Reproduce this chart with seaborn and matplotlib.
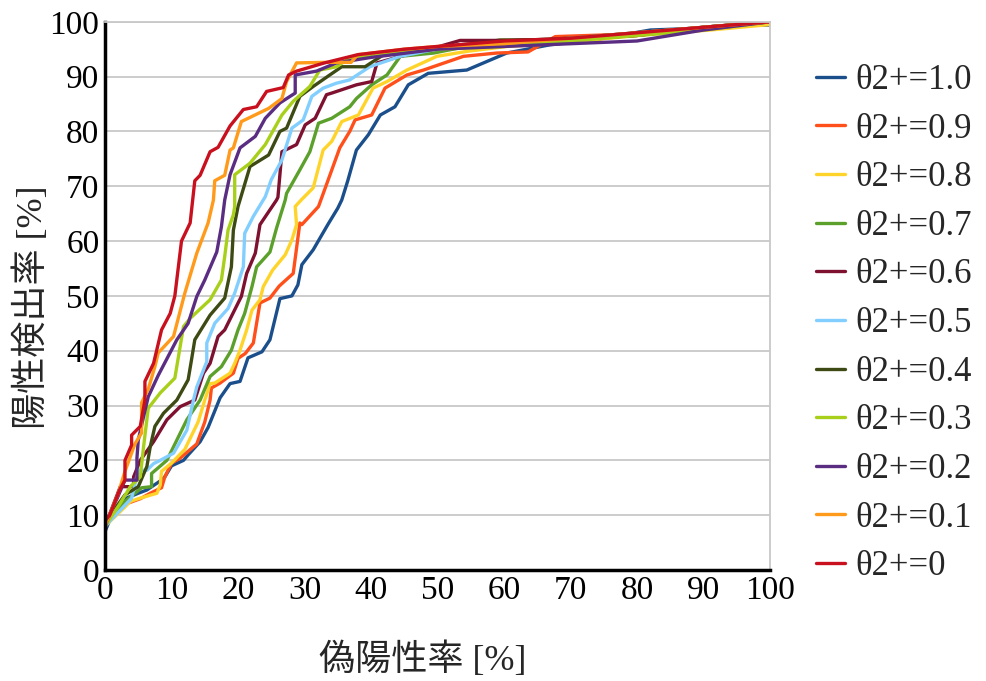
import matplotlib
matplotlib.use("Agg")
import matplotlib.pyplot as plt
import seaborn as sns
import pandas as pd

sns.set_theme(style="white")
plt.rcParams['font.family'] = ['Liberation Serif', 'Noto Sans CJK JP']

labels = ["θ2+=1.0", "θ2+=0.9", "θ2+=0.8", "θ2+=0.7", "θ2+=0.6", "θ2+=0.5",
          "θ2+=0.4", "θ2+=0.3", "θ2+=0.2", "θ2+=0.1", "θ2+=0"]
colors = ["#1B4F8C", "#FF4F1A", "#FFD42A", "#5CA02C", "#7E1030", "#82CFFF",
          "#3D4A14", "#A8D01A", "#5A2D82", "#FF9A1A", "#C8101E"]

x_10 = [0, 1, 3, 5, 6.3, 8.5, 9, 10, 11.8, 12.5, 14.3, 15.5, 16.5, 17.3, 18.8, 20.3, 21.5, 23.6, 24.8, 26.3, 28.1, 29, 29.6, 31.3, 33.5, 35, 35.6, 36.5, 37.8, 39.6, 41.4, 43.6, 45.6, 48.6, 54.4, 60.4, 66.9, 74, 82, 91, 94.5, 100]
y_10 = [7, 10, 13, 14, 14.6, 16.4, 17, 19, 20, 21, 23.4, 26, 29, 31.4, 34, 34.4, 38.7, 39.8, 42, 49.5, 50, 52, 55.7, 58.4, 63, 66, 67.5, 71, 76.6, 79.4, 83, 84.5, 88.5, 90.6, 91.2, 94.3, 95.8, 96.8, 98.5, 98.9, 99.4, 99.4]

x_09 = [0, 3, 5.3, 6.8, 8.5, 9, 10, 11.3, 13.8, 15, 15.8, 16, 17.3, 19.3, 20, 21.1, 22.3, 23.3, 24.8, 26.2, 28.3, 29.3, 29.6, 32.1, 33.3, 35.3, 36.8, 37.6, 40.1, 42.1, 45.4, 47.9, 53.9, 58.9, 63.6, 67.7, 80, 90, 100]
y_09 = [8, 12, 13, 14, 15, 17, 19.5, 20.4, 23, 27, 31, 33.2, 34.1, 35.9, 38.6, 39.5, 41.4, 48.7, 49.6, 51.8, 54.1, 63.3, 63, 66.3, 70.3, 77, 80, 82.1, 83, 87.9, 90.3, 91.2, 93.7, 94.3, 94.5, 97.3, 97.8, 99, 100]

x_08 = [0, 3, 3.8, 5, 7.8, 8.3, 8.5, 10, 12, 14, 15, 15.8, 16.5, 18.8, 19.5, 20.3, 21.3, 22.1, 23.3, 23.8, 25.2, 27.1, 28.1, 28.8, 28.6, 29.5, 31.3, 32.8, 34.1, 35.6, 38.1, 40.3, 42.4, 45.4, 49.9, 54.4, 60.4, 67.4, 80, 91, 100]
y_08 = [8, 11.5, 12.5, 13, 14, 15.5, 18, 19.5, 22, 27, 31, 34, 34.1, 35.9, 37.7, 40.1, 43.8, 47.4, 49.3, 51.7, 54.7, 57.5, 60.2, 63, 66.3, 67.5, 69.7, 76.6, 78.2, 81.8, 83, 87.9, 89.1, 91.2, 93.7, 94.6, 95.5, 96, 97.5, 98.5, 99.5]

x_07 = [0, 3, 5.5, 7, 7, 9.3, 12.3, 14.3, 15.8, 17.5, 19, 20, 21, 22.1, 22.8, 24.8, 25.8, 27.1, 27.3, 29.3, 30.8, 32.1, 34.1, 36.8, 37.8, 40.1, 42.4, 44.4, 49.4, 59.4, 66.9, 80, 90, 100]
y_07 = [8, 12.5, 15, 15.2, 17.6, 20, 27.4, 31, 35.3, 37.1, 40.1, 43.8, 46.8, 51.7, 55.3, 58, 62.4, 67.5, 68.7, 73, 76.3, 81.5, 82.4, 84.5, 86, 88.5, 90.3, 93.7, 94.3, 96.7, 96.7, 97.5, 99, 100]

x_06 = [0, 2.3, 4.3, 4.3, 5.3, 7.3, 9.3, 11.3, 13.5, 14.8, 15.8, 17, 18, 20.5, 21.3, 22.6, 23.3, 24.8, 25.8, 26, 26.6, 28.8, 30.1, 31.6, 33.3, 34.1, 37.8, 40.1, 40.9, 44.4, 49.4, 53.4, 58.4, 70, 80, 90, 100]
y_06 = [8, 15.2, 15.2, 17, 20, 23.4, 27.4, 29.8, 31, 35.9, 37.7, 42.6, 43.8, 49.9, 54.1, 57.8, 63, 65.7, 67.5, 68, 76.3, 77.6, 81.2, 82.4, 86.7, 87, 88.5, 89.1, 92.5, 93.7, 95.2, 96.6, 96.6, 96.8, 97.5, 99, 100]

x_05 = [0, 4, 5, 6.3, 7.3, 8.3, 10.3, 12.3, 13.3, 13.8, 15.3, 15.3, 16.5, 18.5, 19.5, 20.8, 21, 22.3, 24.1, 25, 26.6, 28.1, 29.8, 31.1, 32.8, 34.8, 36.8, 39.8, 44.4, 49.4, 60, 70, 80, 90, 100]
y_05 = [8, 13.1, 18.2, 18.2, 19.4, 20, 21.3, 25.5, 31, 33.4, 38, 41.4, 45, 47.7, 50.5, 55.3, 61.4, 64.5, 68.1, 71.2, 74.8, 80.6, 82.1, 86.4, 87.9, 88.8, 89.4, 91.8, 93.7, 94.9, 96, 97, 98, 99, 100]

x_04 = [0, 1.2, 3, 5, 6.3, 6.8, 7.5, 8.8, 10.8, 12.5, 13, 13.5, 15.8, 18, 19, 19.3, 20, 21.8, 24.6, 26.3, 27.3, 29.3, 31.3, 33.8, 35.6, 39.1, 41.9, 53.4, 60, 70, 80, 90, 100]
y_04 = [8, 10.7, 13.7, 15.2, 18.9, 22.5, 26.2, 28.6, 31, 34.7, 38.3, 42, 46.5, 49.6, 55.3, 62, 66.3, 73.6, 75.7, 80, 80.6, 86.4, 88.2, 90.3, 91.8, 91.8, 94, 95.8, 96.5, 97, 98, 99, 100]

x_03 = [0, 2.2, 3.8, 5.3, 5.8, 6.5, 8.3, 10.5, 11.8, 12.8, 15.8, 17.5, 18, 18.5, 19.3, 19.5, 19.5, 21.8, 24.1, 26.6, 28.3, 30.8, 32.3, 34.8, 36.3, 40, 50, 60, 70, 80, 90, 100]
y_03 = [8, 12, 15.2, 17, 22.5, 29.5, 32.3, 35, 44.4, 45.9, 49.3, 52.9, 57.2, 62, 64.8, 66.3, 72.1, 74.2, 77.6, 83, 85.5, 88.2, 91.2, 91.8, 93, 94, 95, 95.5, 96.5, 97.5, 98.5, 100]

x_02 = [0, 1.2, 1.8, 3, 4.8, 4.8, 5, 5.8, 6.5, 8, 10.8, 12.5, 13.8, 15, 16.8, 17.5, 18, 18.8, 20.3, 22.6, 24.1, 26.3, 28.6, 28.6, 31.8, 34.8, 40, 50, 60, 70, 80, 90, 100]
y_02 = [8, 11.6, 13, 16.4, 16.4, 20.4, 23.7, 28, 31.6, 35.5, 42, 45, 49.9, 52.9, 58, 62.6, 67.5, 72.1, 77, 79.1, 82.4, 85.2, 87, 90.3, 91, 92.5, 93.5, 95, 95.5, 96, 96.5, 98.5, 100]

x_01 = [0, 1, 2, 3, 4.5, 5.5, 5.5, 6.5, 7.5, 8, 10.3, 12, 13.8, 15.5, 16.3, 16.5, 18, 18.8, 19.3, 20.5, 24.6, 26.6, 27.3, 28.8, 33, 37, 38, 45, 50, 60, 70, 80, 90, 100]
y_01 = [8, 11, 14, 18, 23, 25, 30.5, 33, 37.1, 39.6, 42.6, 50.5, 57.8, 63.3, 67.5, 71, 72, 76.6, 77, 81.8, 84.2, 86, 89.1, 92.5, 92.6, 92.6, 94, 95, 95.5, 96, 97, 98, 99, 100]

x_00 = [0, 0, 0.7, 1.2, 2.2, 3, 3, 4, 4, 5.3, 6, 6, 7.3, 8.5, 9.8, 10.5, 11, 11.5, 12.8, 13.5, 14.3, 15.8, 17, 18.8, 20.8, 22.8, 24.3, 26.8, 27.6, 28.8, 33, 38, 45, 50, 55, 60, 70, 80, 90, 100]
y_00 = [6, 9, 10, 11.5, 14.6, 16.4, 20, 22.8, 24.6, 26.2, 31, 34.4, 37.7, 43.8, 46.8, 50, 55, 60, 63.3, 71, 72, 76.3, 77.1, 81, 84, 84.5, 87.3, 88, 90.3, 91, 92.5, 94, 95, 95.5, 96, 96.5, 97, 98, 99, 100]

series_x = [x_10, x_09, x_08, x_07, x_06, x_05, x_04, x_03, x_02, x_01, x_00]
series_y = [y_10, y_09, y_08, y_07, y_06, y_05, y_04, y_03, y_02, y_01, y_00]

x_ticks = list(range(0, 101, 10))
y_ticks = list(range(0, 101, 10))

fig = plt.figure(figsize=(9.87, 6.81), dpi=100)
ax = fig.add_axes([0.1064, 0.163, 0.6738, 0.805])

for lab, col, xs, ys in zip(labels, colors, series_x, series_y):
    df = pd.DataFrame({"x": xs, "y": ys})
    sns.lineplot(data=df, x="x", y="y", ax=ax, color=col, linewidth=2.4,
                 sort=False, estimator=None, label=lab)

ax.set_xlim(0, 100)
ax.set_ylim(0, 100)
ax.set_xticks(x_ticks)
ax.set_yticks(y_ticks)
ax.yaxis.grid(True, color="#C8C8C8", linewidth=1.3)
ax.xaxis.grid(False)
ax.set_axisbelow(True)
ax.tick_params(axis="both", length=0, labelsize=24, colors="black", pad=4)
for s in ["left", "bottom"]:
    ax.spines[s].set_color("black")
    ax.spines[s].set_linewidth(2.5)
for s in ["right", "top"]:
    ax.spines[s].set_color("#C8C8C8")
    ax.spines[s].set_linewidth(1.3)

ax.set_xlabel("偽陽性率 [%]", fontsize=26)
ax.set_ylabel("陽性検出率 [%]", fontsize=26)
ax.xaxis.set_label_coords(0.477, -0.133)
ax.yaxis.set_label_coords(-0.083, 0.48)

leg = ax.legend(loc="upper left", bbox_to_anchor=(0.795, 0.952),
                bbox_transform=fig.transFigure, frameon=False,
                fontsize=25, handlelength=0.85, handletextpad=0.3,
                labelspacing=0.45, borderpad=0.4)
for h in leg.get_lines():
    h.set_linewidth(2.4)

fig.savefig("out.png", dpi=100)
